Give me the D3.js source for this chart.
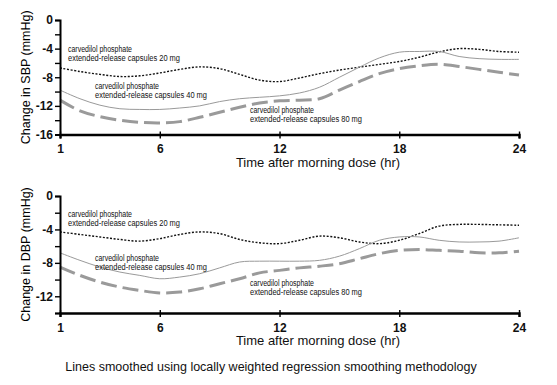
<!DOCTYPE html>
<html>
<head>
<meta charset="utf-8">
<script src="https://cdn.jsdelivr.net/npm/d3@7"></script>
<style>
  body { margin: 0; background: #fff; }
  svg { display: block; font-family: "Liberation Sans", Arial, Helvetica, sans-serif; }
</style>
</head>
<body>
<svg width="557" height="385"></svg>
<script>
const hours = d3.range(1, 25);

// change in systolic BP (mmHg)
const sbp20 = [-6.7, -7.2, -7.6, -7.9, -7.8, -7.4, -6.9, -6.55, -6.8, -7.6, -8.4, -8.6,
               -8.1, -7.5, -7.0, -6.6, -6.2, -5.8, -5.2, -4.45, -4.0, -4.1, -4.4, -4.5];
const sbp40 = [-9.8, -11.0, -11.9, -12.4, -12.5, -12.5, -12.3, -12.0, -11.4, -11.0, -10.8, -10.6,
               -10.2, -9.4, -8.0, -6.6, -5.3, -4.5, -4.4, -4.4, -5.1, -5.4, -5.5, -5.5];
const sbp80 = [-11.2, -12.7, -13.5, -14.0, -14.3, -14.4, -14.2, -13.6, -12.9, -12.2, -11.6, -11.3,
               -11.2, -11.0, -9.8, -8.6, -7.5, -6.8, -6.4, -6.2, -6.5, -6.9, -7.3, -7.7];

// change in diastolic BP (mmHg)
const dbp20 = [-4.3, -4.6, -4.9, -5.2, -5.4, -5.1, -4.6, -4.3, -4.5, -5.2, -5.6, -5.7,
               -5.3, -4.8, -5.0, -5.5, -5.7, -5.3, -4.5, -3.6, -3.4, -3.4, -3.45, -3.5];
const dbp40 = [-6.8, -7.7, -8.5, -9.1, -9.5, -9.9, -9.7, -9.3, -8.6, -7.9, -7.8, -7.8,
               -7.8, -7.7, -7.2, -6.3, -5.3, -4.9, -4.9, -5.3, -5.5, -5.5, -5.4, -5.0];
const dbp80 = [-8.5, -9.5, -10.3, -10.9, -11.3, -11.6, -11.5, -11.1, -10.5, -9.9, -9.2, -8.9,
               -8.6, -8.4, -8.1, -7.5, -6.9, -6.5, -6.4, -6.5, -6.6, -6.8, -6.8, -6.6];

const xTicks = [1, 6, 12, 18, 24];
const doses = ["20 mg", "40 mg", "80 mg"];

const svg = d3.select("svg");
const x = d3.scaleLinear().domain([1, 24]).range([60, 519]);

const styles = [
  {stroke: "#111", width: 1.4, dash: "2,1.6"},
  {stroke: "#9a9a9a", width: 1, dash: null},
  {stroke: "#9a9a9a", width: 3, dash: "16,6"}
];

function panel(cfg) {
  const y = d3.scaleLinear().domain([0, cfg.min]).range([cfg.top, cfg.bottom]);
  const g = svg.append("g");

  const line = d3.line()
    .x((d, i) => x(hours[i]))
    .y(d => y(d))
    .curve(d3.curveCatmullRom);

  cfg.series.forEach((s, k) => {
    g.append("path")
      .attr("d", line(s))
      .attr("fill", "none")
      .attr("stroke", styles[k].stroke)
      .attr("stroke-width", styles[k].width)
      .attr("stroke-dasharray", styles[k].dash);
  });

  // y axis
  const yAxis = g.append("g")
    .attr("transform", `translate(${x.range()[0]},0)`)
    .call(d3.axisLeft(y)
      .tickValues(d3.range(0, cfg.min - 1, -2))
      .tickSize(5)
      .tickPadding(2)
      .tickFormat(d => d % 4 === 0 ? d : ""));
  yAxis.select(".domain").attr("stroke-width", 2);
  yAxis.selectAll(".tick line").attr("stroke-width", 1.4);
  yAxis.selectAll("text").attr("font-size", 12).attr("font-weight", "bold").attr("fill", "#111");

  // x axis
  const xAxis = g.append("g")
    .attr("transform", `translate(0,${cfg.bottom})`)
    .call(d3.axisBottom(x).tickValues(xTicks).tickSize(4).tickPadding(6));
  xAxis.select(".domain").attr("stroke-width", 2.4);
  xAxis.selectAll(".tick line").attr("y1", -3).attr("stroke-width", 1.4);
  xAxis.selectAll("text").attr("font-size", 12).attr("font-weight", "bold").attr("fill", "#111");

  g.append("text")
    .attr("transform", `translate(30,${(cfg.top + cfg.bottom) / 2}) rotate(-90)`)
    .attr("text-anchor", "middle")
    .attr("font-size", 12.5)
    .text(cfg.ylabel);

  g.append("text")
    .attr("x", 318)
    .attr("y", cfg.bottom + 32)
    .attr("text-anchor", "middle")
    .attr("font-size", 13)
    .attr("fill", "#111")
    .text("Time after morning dose (hr)");

  cfg.labels.forEach((p, k) => {
    const t = g.append("text").attr("font-size", 8.5).attr("fill", "#111");
    t.append("tspan").attr("x", p[0]).attr("y", p[1])
      .attr("textLength", 64).attr("lengthAdjust", "spacingAndGlyphs")
      .text("carvedilol phosphate");
    t.append("tspan").attr("x", p[0]).attr("y", p[1] + 9)
      .attr("textLength", 112).attr("lengthAdjust", "spacingAndGlyphs")
      .text("extended-release capsules " + doses[k]);
  });
}

panel({
  top: 20, bottom: 134.5, min: -16,
  series: [sbp20, sbp40, sbp80],
  ylabel: "Change in SBP (mmHg)",
  labels: [[68, 52], [95, 89], [250, 113]]
});

panel({
  top: 196, bottom: 313, min: -14,
  series: [dbp20, dbp40, dbp80],
  ylabel: "Change in DBP (mmHg)",
  labels: [[68, 217], [95, 261], [250, 286]]
});

svg.append("text")
  .attr("x", 271)
  .attr("y", 371)
  .attr("text-anchor", "middle")
  .attr("font-size", 12.5)
  .attr("fill", "#111")
  .text("Lines smoothed using locally weighted regression smoothing methodology");
</script>
</body>
</html>
